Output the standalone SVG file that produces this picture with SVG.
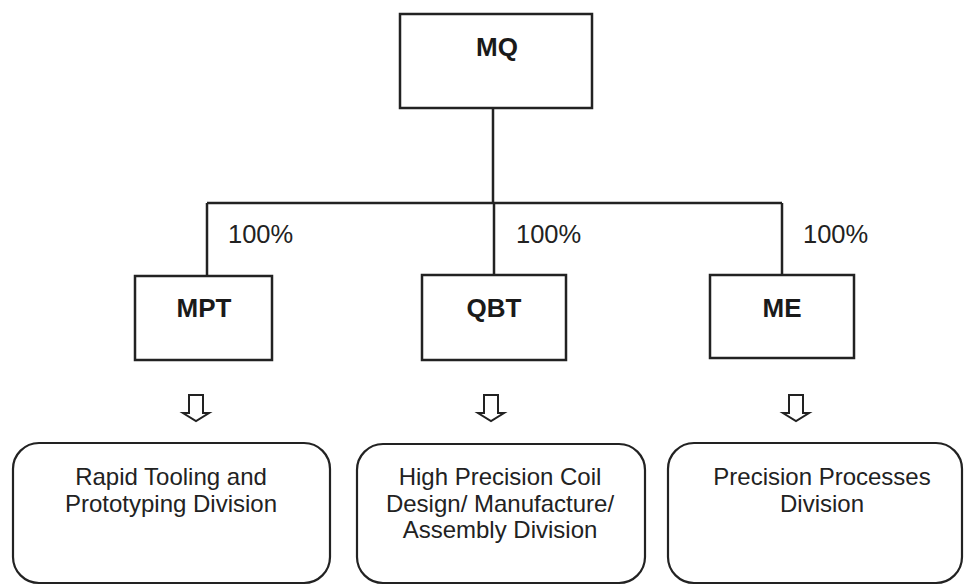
<svg xmlns="http://www.w3.org/2000/svg" width="966" height="585" viewBox="0 0 966 585">
<style>
.box{fill:#fff;stroke:#222;stroke-width:2.5}
.rbox{fill:#fff;stroke:#222;stroke-width:2.2}
.lbl{font-family:"Liberation Sans",Arial,sans-serif;font-weight:bold;font-size:26px;fill:#1a1a1a;text-anchor:middle}
.pct{font-family:"Liberation Sans",Arial,sans-serif;font-size:25.5px;fill:#222}
.div{font-family:"Liberation Sans",Arial,sans-serif;font-size:24px;fill:#222;text-anchor:middle}
.con{fill:none;stroke:#222;stroke-width:2.5}
.arr{fill:#fff;stroke:#222;stroke-width:2}
</style>
<defs>
<polygon id="harrow" class="arr" points="-7,0 7,0 7,18 13,18 0,26 -13,18 -7,18"/>
</defs>
<rect width="966" height="585" fill="#fff"/>
<g id="connectors">
<path class="con" d="M493,108 V203 M207,203 H782 M207,203 V276 M494,203 V275 M782,203 V275"/>
<use href="#harrow" x="196" y="395"/>
<use href="#harrow" x="491" y="395"/>
<use href="#harrow" x="796" y="395"/>
<text class="pct" x="228" y="243">100%</text>
<text class="pct" x="516" y="243">100%</text>
<text class="pct" x="803" y="243">100%</text>
</g>
<g id="MQ">
<rect class="box" x="400" y="14" width="192" height="94"/>
<text class="lbl" x="497" y="56">MQ</text>
</g>
<g id="MPT">
<rect class="box" x="135" y="276" width="137" height="84"/>
<text class="lbl" x="204" y="317">MPT</text>
</g>
<g id="QBT">
<rect class="box" x="422" y="275" width="144" height="85"/>
<text class="lbl" x="494" y="317">QBT</text>
</g>
<g id="ME">
<rect class="box" x="710" y="275" width="144" height="83"/>
<text class="lbl" x="782" y="317">ME</text>
</g>
<g id="div1">
<rect class="rbox" x="13" y="443" width="317" height="140" rx="26"/>
<text class="div" x="171" y="485">Rapid Tooling and</text>
<text class="div" x="171" y="512">Prototyping Division</text>
</g>
<g id="div2">
<rect class="rbox" x="357" y="444" width="288" height="139" rx="26"/>
<text class="div" x="500" y="485">High Precision Coil</text>
<text class="div" x="500" y="512">Design/ Manufacture/</text>
<text class="div" x="500" y="538">Assembly Division</text>
</g>
<g id="div3">
<rect class="rbox" x="668" y="443" width="294" height="140" rx="26"/>
<text class="div" x="822" y="485">Precision Processes</text>
<text class="div" x="822" y="512">Division</text>
</g>
</svg>
